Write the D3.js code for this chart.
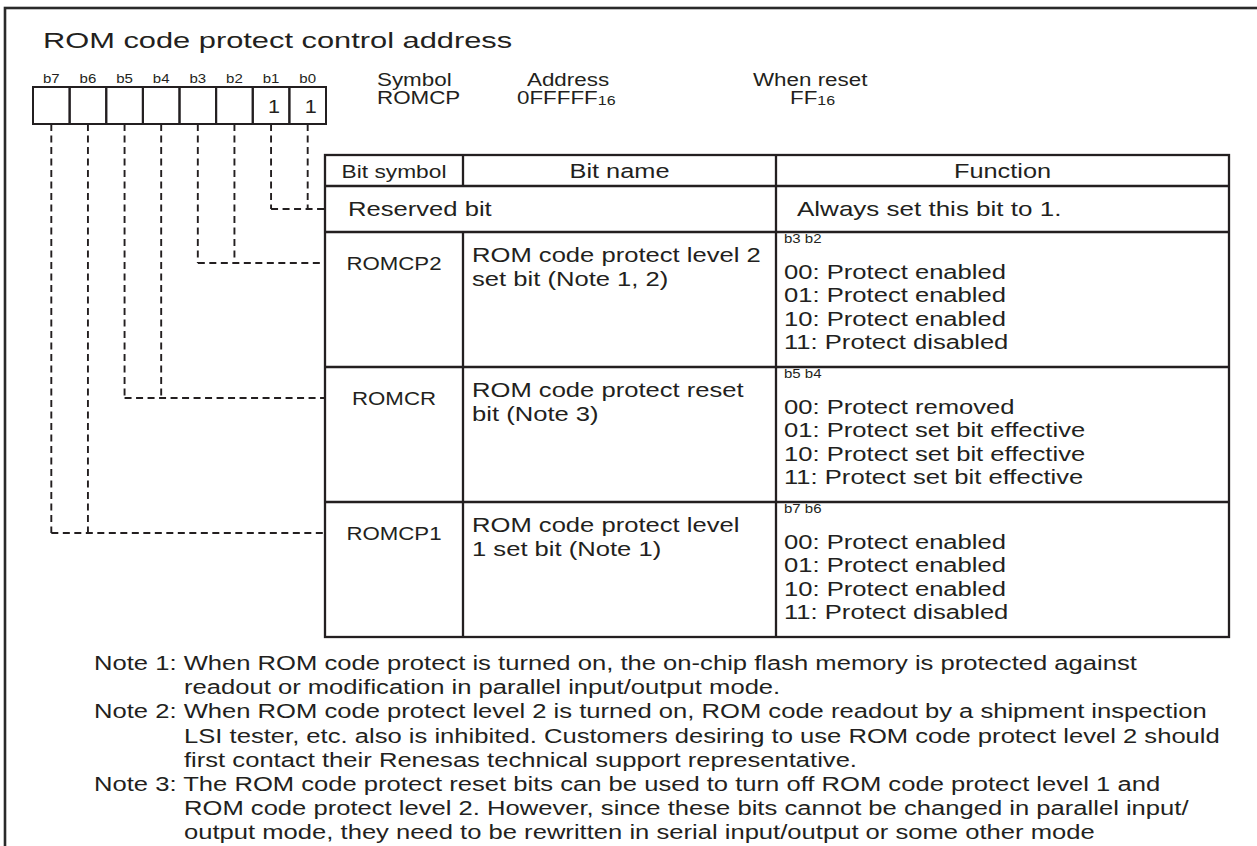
<!DOCTYPE html>
<html><head><meta charset="utf-8">
<script src="https://cdn.jsdelivr.net/npm/d3@7"></script>
<style>
body{margin:0;background:#fff}
text{font-family:"Liberation Sans",Arial,Helvetica,sans-serif;fill:#231f20}
</style>
</head><body>
<svg id="c" width="1257" height="846"></svg>
<script>
// ---- data ----
const title = "ROM code protect control address";
const bitLabels = ["b7","b6","b5","b4","b3","b2","b1","b0"];
const bitValues = ["","","","","","","1","1"];
const regHeaders = ["Symbol","Address","When reset"];
const regValues = [["ROMCP",""],["0FFFFF","16"],["FF","16"]];
const columnHeaders = ["Bit symbol","Bit name","Function"];
const rowBits = [["b1","b0"],["b3","b2"],["b5","b4"],["b7","b6"]];
const bitSymbols = ["","ROMCP2","ROMCR","ROMCP1"];
const bitNames = [["Reserved bit"],
  ["ROM code protect level 2","set bit (Note 1, 2)"],
  ["ROM code protect reset","bit (Note 3)"],
  ["ROM code protect level","1 set bit (Note 1)"]];
const functionKeys = ["","b3 b2","b5 b4","b7 b6"];
const functionLines = [["Always set this bit to 1."],
  ["00: Protect enabled","01: Protect enabled","10: Protect enabled","11: Protect disabled"],
  ["00: Protect removed","01: Protect set bit effective","10: Protect set bit effective","11: Protect set bit effective"],
  ["00: Protect enabled","01: Protect enabled","10: Protect enabled","11: Protect disabled"]];
const noteLabels = ["Note 1: ","Note 2: ","Note 3: "];
const noteLines = [
  ["When ROM code protect is turned on, the on-chip flash memory is protected against",
   "readout or modification in parallel input/output mode."],
  ["When ROM code protect level 2 is turned on, ROM code readout by a shipment inspection",
   "LSI tester, etc. also is inhibited. Customers desiring to use ROM code protect level 2 should",
   "first contact their Renesas technical support representative."],
  ["The ROM code protect reset bits can be used to turn off ROM code protect level 1 and",
   "ROM code protect level 2. However, since these bits cannot be changed in parallel input/",
   "output mode, they need to be rewritten in serial input/output or some other mode"]];

// ---- layout ----
const INK = "#231f20";
const SX = 1.28;
const svg = d3.select("#c");
function T(g, x, y, s, size, anchor, sx) {
  return g.append("text")
    .attr("transform", `translate(${x},${y}) scale(${sx||SX},1)`)
    .attr("font-size", size)
    .attr("text-anchor", anchor || "start")
    .text(s);
}

// outer frame (extends past viewport, as in the cropped original)
svg.append("rect").attr("x",5).attr("y",8).attr("width",1300).attr("height",900)
  .attr("fill","none").attr("stroke","#2a2a2a").attr("stroke-width",2.6);

// title
T(svg, 43, 48, title, 22.5, "start", 1.37);

// bit boxes
const bx = d3.scaleBand().domain(bitLabels).range([33, 326]);
const boxTop = 87, boxBot = 124;
const gb = svg.append("g");
gb.selectAll("rect").data(bitLabels).join("rect")
  .attr("x", d => bx(d)).attr("y", boxTop)
  .attr("width", bx.bandwidth()).attr("height", boxBot - boxTop)
  .attr("fill","none").attr("stroke",INK).attr("stroke-width",2);
bitLabels.forEach((b,i) => {
  T(gb, bx(b) + bx.bandwidth()/2, 83, b, 12, "middle", 1.25);
  if (bitValues[i]) T(gb, bx(b) + bx.bandwidth()/2 + 3, 113, bitValues[i], 18, "middle", 1.2);
});

// register info
const regX = [377, 527, 753];
const valX = [377, 517, 790];
regHeaders.forEach((h,i) => {
  T(svg, regX[i], 86, h, 17.5);
  const v = regValues[i];
  const t = svg.append("text")
    .attr("transform", `translate(${valX[i]},104) scale(${SX},1)`)
    .attr("font-size", 17.5);
  t.append("tspan").text(v[0]);
  if (v[1]) t.append("tspan").attr("font-size", 12.5).attr("dy", 1).text(v[1]);
});

// table
const colX = [325, 463, 776, 1229];
const rowY = [155, 186, 232, 367, 502, 637];
const gt = svg.append("g").attr("stroke", INK).attr("stroke-width", 2.3).attr("fill","none");
gt.append("rect").attr("x",colX[0]).attr("y",rowY[0]).attr("width",colX[3]-colX[0]).attr("height",rowY[5]-rowY[0]);
rowY.slice(1,5).forEach(y => gt.append("line").attr("x1",colX[0]).attr("x2",colX[3]).attr("y1",y).attr("y2",y));
gt.append("line").attr("x1",colX[1]).attr("x2",colX[1]).attr("y1",rowY[0]).attr("y2",rowY[1]);
gt.append("line").attr("x1",colX[1]).attr("x2",colX[1]).attr("y1",rowY[2]).attr("y2",rowY[5]);
gt.append("line").attr("x1",colX[2]).attr("x2",colX[2]).attr("y1",rowY[0]).attr("y2",rowY[5]);

// headers
T(svg, (colX[0]+colX[1])/2, 178, columnHeaders[0], 17.5, "middle", 1.3);
T(svg, (colX[1]+colX[2])/2, 178, columnHeaders[1], 19.5, "middle", 1.3);
T(svg, (colX[2]+colX[3])/2, 178, columnHeaders[2], 19.5, "middle", 1.3);

// rows
const connY = [];
bitNames.forEach((names, r) => {
  const top = rowY[r+1];
  if (r === 0) {
    const cy = (rowY[1] + rowY[2]) / 2;
    connY.push(cy);
    T(svg, 348, cy + 7, names[0], 20);
    T(svg, 797, cy + 7, functionLines[0][0], 20, "start", 1.3);
    return;
  }
  connY.push(top + 31);
  T(svg, (colX[0]+colX[1])/2, top + 37.5, bitSymbols[r], 17.5, "middle", 1.27);
  names.forEach((n,k) => T(svg, 472, top + 30 + 23.5*k, n, 20));
  T(svg, 784, top + 11, functionKeys[r], 12, "start", 1.25);
  functionLines[r].forEach((f,k) => T(svg, 784, top + 47 + 23.3*k, f, 20));
});

// dashed connectors
const gd = svg.append("g").attr("stroke", INK).attr("stroke-width", 1.9).attr("stroke-dasharray","7,4.5").attr("fill","none");
rowBits.forEach((pair, r) => {
  const xs = pair.map(b => bx(b) + bx.bandwidth()/2);
  const cy = connY[r];
  xs.forEach(x => gd.append("line").attr("x1",x).attr("x2",x).attr("y1",boxBot).attr("y2",cy));
  gd.append("line").attr("x1",d3.min(xs)).attr("x2",colX[0]).attr("y1",cy).attr("y2",cy);
});

// notes
let ny = 670;
const lh = 24.2;
const noteX = 94, indentX = 184;
noteLines.forEach((lines, i) => {
  lines.forEach((l, k) => {
    if (k === 0) T(svg, noteX, ny, noteLabels[i] + l, 20);
    else T(svg, indentX, ny, l, 20);
    ny += lh;
  });
});
</script>
</body></html>
